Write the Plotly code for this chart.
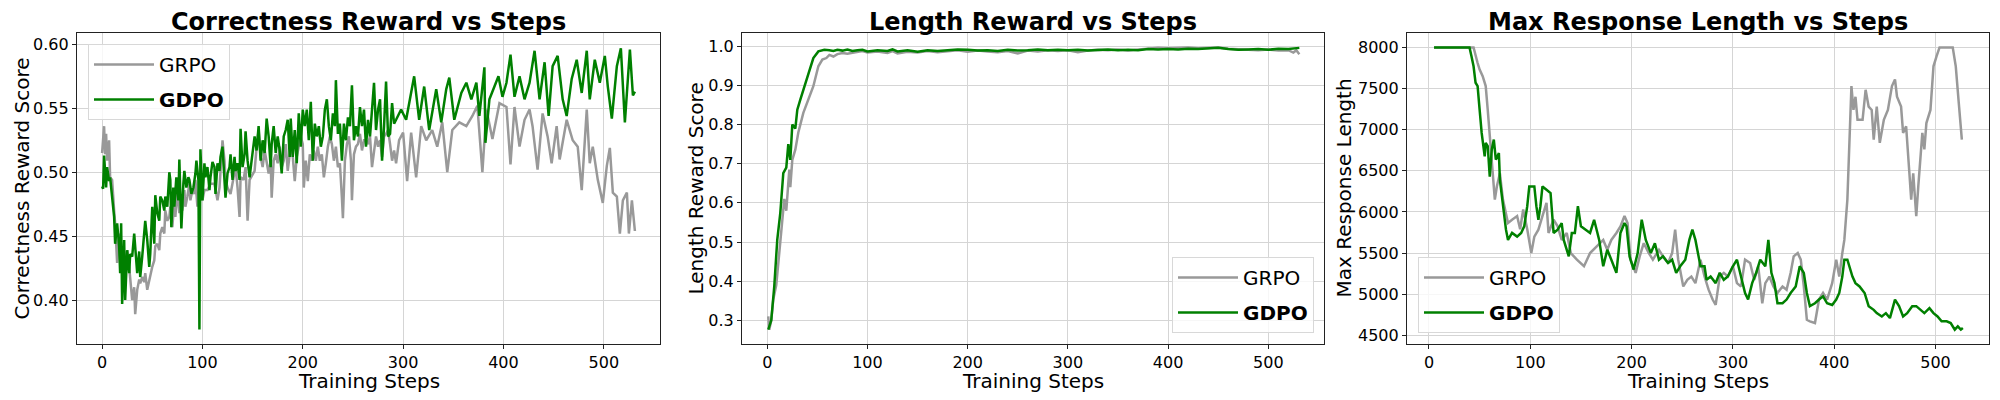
import plotly.graph_objects as go

# ---- Correctness reward ----
corr_grpo_steps = [0, 2, 3, 4, 5, 7, 8, 10, 12, 13, 15, 17, 18, 20, 22, 23, 25, 27, 28, 30, 32, 33, 35,
                   37, 38, 40, 42, 43, 45, 47, 48, 50, 52, 53, 55, 57, 58, 60, 62, 63, 65, 67, 68, 70,
                   72, 73, 75, 77, 78, 80, 82, 83, 85, 87, 88, 90, 92, 93, 95, 97, 98, 100, 102, 105,
                   108, 112, 115, 117, 120, 122, 123, 125, 128, 132, 133, 135, 137, 138, 141, 143, 145,
                   147, 150, 152, 154, 156, 158, 160, 162, 164, 166, 168, 169, 171, 173, 175, 177, 179,
                   181, 183, 185, 187, 189, 192, 194, 196, 198, 200, 201, 203, 205, 207, 209, 211, 213,
                   215, 217, 219, 221, 223, 225, 227, 229, 231, 233, 235, 237, 239, 240, 242, 244, 246,
                   248, 249, 251, 253, 255, 257, 259, 261, 263, 265, 267, 269, 271, 273, 275, 277, 279,
                   281, 283, 285, 287, 289, 291, 293, 296, 300, 304, 308, 313, 318, 323, 329, 334, 339,
                   344, 349, 356, 363, 369, 374, 379, 383, 389, 396, 403, 407, 411, 416, 421, 426, 429,
                   434, 439, 444, 448, 453, 456, 463, 469, 474, 478, 483, 486, 489, 494, 499, 503, 506,
                   509, 513, 516, 519, 523, 525, 528, 531]
corr_grpo = [0.515, 0.536, 0.514, 0.530, 0.509, 0.525, 0.496, 0.494, 0.470, 0.460, 0.429, 0.452, 0.439,
             0.434, 0.421, 0.426, 0.439, 0.426, 0.416, 0.400, 0.410, 0.389, 0.408, 0.416, 0.413, 0.418,
             0.414, 0.421, 0.408, 0.416, 0.421, 0.426, 0.431, 0.442, 0.444, 0.439, 0.452, 0.457, 0.452,
             0.470, 0.462, 0.465, 0.473, 0.457, 0.478, 0.465, 0.486, 0.468, 0.481, 0.470, 0.486, 0.473,
             0.481, 0.491, 0.478, 0.486, 0.483, 0.494, 0.473, 0.488, 0.488, 0.478, 0.486, 0.486, 0.491,
             0.491, 0.478, 0.488, 0.525, 0.509, 0.494, 0.488, 0.483, 0.499, 0.504, 0.488, 0.465, 0.496,
             0.494, 0.504, 0.462, 0.494, 0.499, 0.501, 0.520, 0.533, 0.512, 0.504, 0.517, 0.507, 0.499,
             0.509, 0.480, 0.509, 0.514, 0.507, 0.520, 0.504, 0.509, 0.522, 0.501, 0.514, 0.522, 0.493,
             0.512, 0.520, 0.528, 0.522, 0.488, 0.509, 0.493, 0.514, 0.509, 0.517, 0.509, 0.520, 0.509,
             0.514, 0.496, 0.507, 0.520, 0.528, 0.522, 0.509, 0.520, 0.504, 0.507, 0.480, 0.464, 0.509,
             0.522, 0.528, 0.509, 0.478, 0.514, 0.520, 0.522, 0.530, 0.517, 0.525, 0.525, 0.522, 0.528,
             0.504, 0.517, 0.528, 0.520, 0.525, 0.512, 0.528, 0.530, 0.533, 0.522, 0.509, 0.517, 0.507,
             0.525, 0.531, 0.493, 0.531, 0.496, 0.536, 0.525, 0.533, 0.520, 0.539, 0.500, 0.533, 0.539,
             0.536, 0.544, 0.552, 0.500, 0.549, 0.526, 0.554, 0.551, 0.506, 0.551, 0.520, 0.541, 0.549,
             0.536, 0.502, 0.546, 0.528, 0.507, 0.536, 0.510, 0.541, 0.525, 0.520, 0.486, 0.549, 0.507,
             0.520, 0.494, 0.476, 0.505, 0.519, 0.484, 0.481, 0.452, 0.478, 0.484, 0.452, 0.478, 0.454]

corr_gdpo_steps = [0, 1, 2, 4, 5, 7, 8, 10, 12, 13, 15, 17, 18, 19, 20, 22, 23, 25, 27, 28, 30, 32, 33,
                   35, 37, 38, 40, 42, 43, 45, 47, 48, 50, 52, 53, 55, 57, 58, 60, 62, 63, 65, 67, 68,
                   69, 71, 72, 74, 76, 77, 79, 81, 82, 84, 86, 87, 89, 91, 93, 94, 96, 97, 98, 100, 102,
                   103, 105, 107, 108, 110, 112, 113, 115, 117, 118, 120, 122, 123, 125, 127, 128, 130,
                   132, 133, 135, 137, 138, 140, 142, 143, 145, 147, 149, 152, 154, 156, 158, 160, 162,
                   164, 166, 168, 169, 171, 173, 175, 177, 179, 181, 183, 185, 187, 188, 190, 192, 194,
                   196, 198, 200, 202, 204, 206, 208, 210, 212, 214, 216, 218, 220, 222, 224, 226, 228,
                   230, 232, 233, 235, 237, 239, 241, 243, 245, 247, 249, 251, 253, 255, 257, 259, 261,
                   263, 265, 267, 269, 271, 273, 275, 277, 279, 281, 283, 285, 287, 289, 291, 293, 298,
                   303, 308, 311, 316, 321, 326, 333, 338, 343, 346, 351, 358, 363, 368, 373, 376, 381,
                   382, 386, 391, 395, 399, 403, 407, 411, 416, 421, 426, 431, 436, 441, 445, 449, 454,
                   459, 463, 468, 473, 478, 483, 486, 491, 496, 501, 504, 508, 513, 517, 521, 526, 529,
                   531]
corr_gdpo = [0.489, 0.487, 0.513, 0.488, 0.504, 0.493, 0.496, 0.478, 0.465, 0.444, 0.460, 0.442, 0.421,
             0.460, 0.397, 0.447, 0.400, 0.439, 0.421, 0.436, 0.434, 0.452, 0.439, 0.421, 0.438, 0.418,
             0.434, 0.455, 0.462, 0.447, 0.426, 0.436, 0.473, 0.444, 0.482, 0.468, 0.462, 0.481, 0.478,
             0.470, 0.481, 0.473, 0.500, 0.494, 0.457, 0.488, 0.473, 0.496, 0.478, 0.510, 0.456, 0.491,
             0.501, 0.488, 0.496, 0.494, 0.483, 0.488, 0.499, 0.509, 0.494, 0.377, 0.518, 0.478, 0.507,
             0.496, 0.504, 0.486, 0.496, 0.508, 0.504, 0.483, 0.507, 0.501, 0.512, 0.520, 0.494, 0.480,
             0.499, 0.504, 0.514, 0.494, 0.512, 0.501, 0.507, 0.494, 0.534, 0.504, 0.514, 0.532, 0.509,
             0.496, 0.509, 0.528, 0.517, 0.536, 0.509, 0.525, 0.515, 0.542, 0.528, 0.504, 0.522, 0.536,
             0.515, 0.528, 0.517, 0.499, 0.528, 0.533, 0.541, 0.512, 0.542, 0.512, 0.533, 0.507, 0.546,
             0.520, 0.549, 0.536, 0.549, 0.525, 0.555, 0.509, 0.538, 0.528, 0.536, 0.520, 0.528, 0.549,
             0.557, 0.536, 0.525, 0.546, 0.536, 0.572, 0.530, 0.538, 0.509, 0.538, 0.525, 0.543, 0.536,
             0.568, 0.525, 0.536, 0.528, 0.551, 0.536, 0.549, 0.520, 0.541, 0.528, 0.549, 0.570, 0.533,
             0.549, 0.557, 0.509, 0.536, 0.571, 0.528, 0.530, 0.554, 0.538, 0.541, 0.549, 0.541, 0.562,
             0.575, 0.541, 0.567, 0.533, 0.565, 0.539, 0.565, 0.574, 0.541, 0.562, 0.570, 0.557, 0.570,
             0.544, 0.582, 0.523, 0.557, 0.567, 0.575, 0.559, 0.570, 0.592, 0.559, 0.575, 0.557, 0.570,
             0.595, 0.557, 0.586, 0.544, 0.583, 0.591, 0.557, 0.544, 0.573, 0.588, 0.562, 0.595, 0.557,
             0.588, 0.570, 0.591, 0.567, 0.542, 0.583, 0.597, 0.539, 0.596, 0.560, 0.563]

# ---- Length reward ----
len_grpo_steps = [1, 2, 4, 6, 9, 12, 15, 17, 19, 22, 23, 25, 28, 31, 36, 41, 46, 51, 55, 59, 62, 66, 70,
                  75, 80, 88, 95, 100, 110, 120, 125, 130, 140, 150, 160, 170, 180, 190, 200, 210, 220,
                  230, 240, 250, 260, 270, 280, 290, 300, 310, 320, 330, 340, 350, 360, 370, 380, 390,
                  400, 410, 420, 430, 440, 450, 460, 470, 480, 490, 500, 510, 520, 525, 528, 531]
len_grpo = [0.31, 0.276, 0.30, 0.353, 0.39, 0.47, 0.54, 0.61, 0.58, 0.685, 0.64, 0.71, 0.736, 0.78, 0.83,
            0.864, 0.898, 0.949, 0.966, 0.97, 0.978, 0.974, 0.98, 0.983, 0.981, 0.985, 0.988, 0.984,
            0.987, 0.983, 0.988, 0.982, 0.986, 0.984, 0.988, 0.985, 0.987, 0.99, 0.986, 0.989, 0.987,
            0.985, 0.988, 0.982, 0.989, 0.987, 0.99, 0.988, 0.99, 0.985, 0.989, 0.991, 0.99, 0.992,
            0.989, 0.991, 0.994, 0.996, 0.995, 0.996, 0.997, 0.995, 0.996, 0.997, 0.994, 0.993, 0.991,
            0.99, 0.992, 0.989, 0.99, 0.984, 0.99, 0.98]

len_gdpo_steps = [1, 4, 7, 10, 13, 16, 19, 21, 23, 25, 28, 30, 33, 38, 42, 46, 51, 57, 62, 66, 70, 75, 80,
                  85, 90, 95, 100, 110, 120, 125, 130, 140, 150, 160, 170, 180, 190, 200, 210, 220, 230,
                  240, 250, 260, 270, 280, 290, 300, 310, 320, 330, 340, 350, 360, 370, 380, 390, 400,
                  410, 420, 430, 440, 450, 460, 470, 480, 490, 500, 510, 520, 531]
len_gdpo = [0.276, 0.30, 0.387, 0.506, 0.574, 0.676, 0.69, 0.75, 0.71, 0.80, 0.79, 0.838, 0.864, 0.906,
            0.94, 0.97, 0.987, 0.991, 0.99, 0.988, 0.991, 0.989, 0.992, 0.988, 0.99, 0.991, 0.987, 0.99,
            0.988, 0.992, 0.987, 0.99, 0.986, 0.99, 0.988, 0.99, 0.992, 0.991, 0.989, 0.99, 0.988, 0.991,
            0.989, 0.99, 0.992, 0.99, 0.991, 0.99, 0.991, 0.989, 0.991, 0.992, 0.99, 0.991, 0.99, 0.993,
            0.992, 0.993, 0.992, 0.994, 0.993, 0.995, 0.996, 0.993, 0.991, 0.992, 0.993, 0.991, 0.994,
            0.993, 0.996]

# ---- Max response length ----
maxlen_grpo_steps = [5, 44, 48, 50, 53, 56, 58, 61, 63, 65, 67, 70, 73, 76, 78, 82, 87, 90, 93, 97, 101,
                     104, 108, 112, 116, 118, 123, 127, 131, 136, 140, 146, 153, 159, 165, 172, 176, 180,
                     185, 189, 193, 196, 199, 204, 208, 212, 217, 221, 227, 231, 236, 240, 243, 246, 251,
                     255, 259, 263, 268, 272, 276, 280, 283, 287, 291, 295, 300, 304, 308, 312, 317, 321,
                     325, 329, 332, 336, 340, 344, 349, 353, 357, 360, 364, 367, 370, 373, 376, 381, 385,
                     389, 393, 398, 402, 405, 408, 410, 413, 415, 417, 419, 421, 423, 428, 431, 434, 437,
                     439, 442, 445, 449, 453, 457, 460, 462, 466, 468, 471, 474, 476, 478, 481, 483, 485,
                     487, 489, 491, 495, 498, 501, 504, 517, 520, 523, 526]
maxlen_grpo = [8000, 8000, 7810, 7730, 7650, 7530, 7240, 6760, 6430, 6150, 6310, 6470, 6150, 5950, 5865,
               5905, 5950, 5790, 6030, 5790, 5500, 5700, 5785, 5950, 6110, 5745, 5905, 5825, 5660, 5745,
               5500, 5420, 5340, 5500, 5580, 5660, 5540, 5660, 5745, 5825, 5950, 5865, 5420, 5260, 5460,
               5620, 5500, 5420, 5540, 5460, 5380, 5500, 5785, 5420, 5095, 5175, 5215, 5135, 5420, 5215,
               5055, 4935, 4870, 5215, 5260, 5215, 5340, 5135, 5095, 5420, 5380, 5175, 5340, 4890, 5135,
               5215, 5095, 5015, 5095, 5055, 5260, 5460, 5500, 5420, 5095, 4690, 4670, 4650, 4935, 5015,
               4935, 5135, 5420, 5215, 5500, 5660, 6150, 6960, 7530, 7240, 7400, 7120, 7120, 7485, 7280,
               7240, 6880, 7280, 6840, 7120, 7240, 7530, 7610, 7400, 7280, 6960, 7040, 6510, 6150, 6470,
               5950, 6310, 6635, 6960, 6760, 7080, 7240, 7770, 7890, 8000, 8000, 7770, 7320, 6880]

maxlen_gdpo_steps = [5, 40, 42, 44, 46, 48, 50, 52, 55, 56, 58, 60, 62, 64, 66, 69, 70, 73, 76, 78, 82,
                     87, 91, 94, 97, 99, 104, 106, 108, 110, 112, 116, 120, 123, 127, 131, 133, 138, 141,
                     144, 147, 150, 155, 159, 163, 168, 172, 176, 180, 185, 189, 193, 195, 198, 202, 206,
                     210, 214, 219, 223, 227, 231, 236, 240, 244, 248, 253, 257, 260, 263, 268, 272, 274,
                     278, 283, 287, 291, 295, 300, 304, 308, 312, 315, 319, 323, 327, 332, 335, 338, 341,
                     344, 349, 353, 357, 362, 366, 370, 373, 376, 381, 385, 389, 393, 398, 402, 405, 408,
                     410, 413, 415, 418, 421, 425, 430, 434, 439, 442, 447, 451, 455, 460, 464, 468, 472,
                     477, 481, 485, 489, 494, 498, 502, 506, 511, 515, 519, 522, 525, 527]
maxlen_gdpo = [8000, 8000, 7890, 7770, 7570, 7530, 7240, 6960, 6675, 6840, 6800, 6430, 6760, 6880, 6635,
               6715, 6390, 6070, 5785, 5660, 5745, 5700, 5745, 5825, 6070, 6310, 6310, 6070, 5905, 6070,
               6310, 6270, 6230, 5745, 5785, 5865, 5660, 5460, 5745, 5745, 6070, 5825, 5785, 5745, 5905,
               5660, 5340, 5540, 5420, 5260, 5745, 5865, 5825, 5460, 5300, 5500, 5905, 5660, 5500, 5620,
               5420, 5460, 5380, 5420, 5260, 5340, 5420, 5660, 5785, 5660, 5340, 5340, 5175, 5215, 5135,
               5260, 5175, 5215, 5340, 5420, 5215, 5015, 4935, 5135, 5260, 5420, 5340, 5660, 5260, 5135,
               4890, 4890, 4935, 5015, 5095, 5340, 5260, 5015, 4855, 4890, 4935, 4975, 4890, 4870, 4935,
               5015, 5215, 5420, 5420, 5340, 5215, 5135, 5095, 5015, 4855, 4810, 4770, 4730, 4770, 4710,
               4935, 4855, 4730, 4770, 4855, 4855, 4810, 4770, 4830, 4770, 4730, 4670, 4670, 4650, 4570,
               4610, 4570, 4590]

x_ticks = [0, 100, 200, 300, 400, 500]
corr_ticks = [0.40, 0.45, 0.50, 0.55, 0.60]
len_ticks = [0.3, 0.4, 0.5, 0.6, 0.7, 0.8, 0.9, 1.0]
maxlen_ticks = [4500, 5000, 5500, 6000, 6500, 7000, 7500, 8000]

GRPO_COLOR = "#999999"
GDPO_COLOR = "#008000"
FONT = "DejaVu Sans"

# the page body adds an 8px margin, so the figure is drawn 8px smaller and all
# reference pixel positions are shifted by that much
OFF = 8
W, H = 2000 - OFF, 400 - OFF


def px_x(p):
    return (p - OFF) / W


def px_y(p):
    return 1 - (p - OFF) / H


# plot-area boxes in reference pixels (left, right)
panels = [(77, 660), (742, 1324), (1407, 1989)]
top_px, bottom_px = 33, 344
y_dom = [px_y(bottom_px), px_y(top_px)]

fig = go.Figure()

series = [
    (corr_grpo_steps, corr_grpo, corr_gdpo_steps, corr_gdpo),
    (len_grpo_steps, len_grpo, len_gdpo_steps, len_gdpo),
    (maxlen_grpo_steps, maxlen_grpo, maxlen_gdpo_steps, maxlen_gdpo),
]
for i, (gx, gy, dx, dy) in enumerate(series, start=1):
    xa = "x" if i == 1 else f"x{i}"
    ya = "y" if i == 1 else f"y{i}"
    lg = "legend" if i == 1 else f"legend{i}"
    fig.add_trace(go.Scatter(x=gx, y=gy, mode="lines", name="GRPO", xaxis=xa, yaxis=ya,
                             legend=lg, legendgroup=f"grpo{i}",
                             line=dict(color=GRPO_COLOR, width=2.5)))
    fig.add_trace(go.Scatter(x=dx, y=dy, mode="lines", name="<b>GDPO</b>", xaxis=xa, yaxis=ya,
                             legend=lg, legendgroup=f"gdpo{i}",
                             line=dict(color=GDPO_COLOR, width=2.5)))

axis_common = dict(
    showline=True, mirror=True, linecolor="#222222", linewidth=1.2,
    showgrid=True, gridcolor="#d5d5d5", gridwidth=1, zeroline=False,
    ticks="outside", ticklen=4, tickcolor="#222222",
    tickfont=dict(family=FONT, size=16, color="black"),
)

y_cfg = [
    dict(range=[0.3656, 0.6089], tickvals=corr_ticks, tickformat=".2f"),
    dict(range=[0.2395, 1.034], tickvals=len_ticks, tickformat=".1f"),
    dict(range=[4395, 8175], tickvals=maxlen_ticks, tickformat="d"),
]
x_ranges = [[-25, 556], [-25.2, 555.6], [-21.7, 552.8]]

titles = ["Correctness Reward vs Steps", "Length Reward vs Steps", "Max Response Length vs Steps"]
ylabels = ["Correctness Reward Score", "Length Reward Score", "Max Response Length"]
ylabel_px = [21, 695, 1343]

layout = dict(
    width=W, height=H,
    margin=dict(l=0, r=0, t=0, b=0),
    paper_bgcolor="white", plot_bgcolor="white",
    font=dict(family=FONT, color="black"),
    annotations=[],
)

for i, (l_px, r_px) in enumerate(panels, start=1):
    xk = "xaxis" if i == 1 else f"xaxis{i}"
    yk = "yaxis" if i == 1 else f"yaxis{i}"
    anchor_x = "y" if i == 1 else f"y{i}"
    anchor_y = "x" if i == 1 else f"x{i}"
    layout[xk] = dict(axis_common, domain=[px_x(l_px), px_x(r_px)], anchor=anchor_x,
                      range=x_ranges[i - 1], tickvals=x_ticks, automargin=False)
    layout[yk] = dict(axis_common, domain=y_dom, anchor=anchor_y, automargin=False,
                      **y_cfg[i - 1])
    cx = px_x((l_px + r_px) / 2)
    layout["annotations"].append(dict(
        text=f"<b>{titles[i - 1]}</b>", xref="paper", yref="paper", x=cx, y=px_y(22),
        xanchor="center", yanchor="middle", showarrow=False,
        font=dict(family=FONT, size=24, color="black")))
    layout["annotations"].append(dict(
        text="Training Steps", xref="paper", yref="paper", x=cx, y=px_y(381),
        xanchor="center", yanchor="middle", showarrow=False,
        font=dict(family=FONT, size=20, color="black")))
    layout["annotations"].append(dict(
        text=ylabels[i - 1], xref="paper", yref="paper", x=px_x(ylabel_px[i - 1]),
        y=px_y((top_px + bottom_px) / 2), xanchor="center", yanchor="middle",
        textangle=-90, showarrow=False,
        font=dict(family=FONT, size=20, color="black")))

legend_common = dict(
    bgcolor="rgba(255,255,255,0.8)", bordercolor="#d8d8d8", borderwidth=1,
    font=dict(family=FONT, size=20, color="black"), itemwidth=60, tracegroupgap=6,
)
layout["legend"] = dict(legend_common, x=px_x(88), y=px_y(44), xanchor="left", yanchor="top")
layout["legend2"] = dict(legend_common, x=px_x(1314), y=px_y(333), xanchor="right", yanchor="bottom")
layout["legend3"] = dict(legend_common, x=px_x(1418), y=px_y(333), xanchor="left", yanchor="bottom")

fig.update_layout(**layout)
fig.write_html("out.html")
